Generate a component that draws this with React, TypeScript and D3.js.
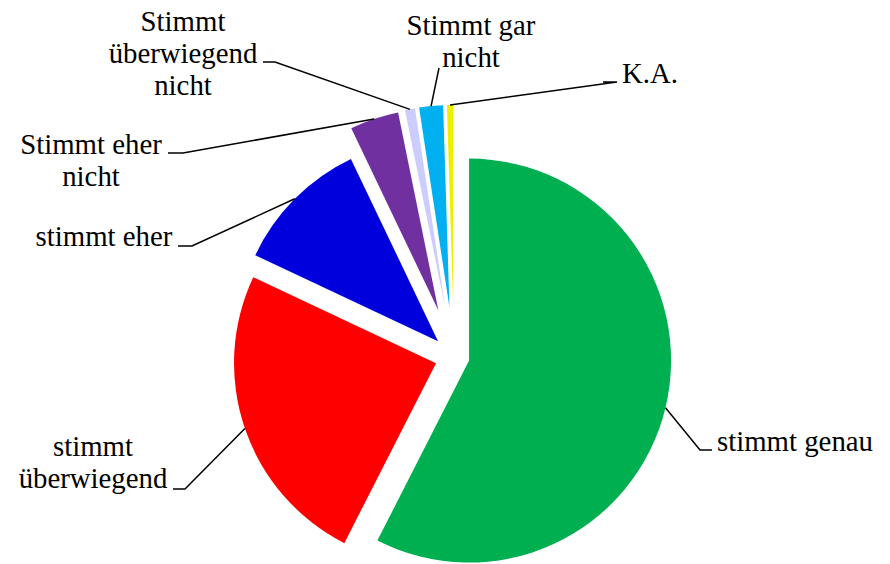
import * as d3 from "d3"

// answer categories (clockwise from 12 o'clock)
const categories = [
  "stimmt genau",
  "stimmt überwiegend",
  "stimmt eher",
  "Stimmt eher nicht",
  "Stimmt überwiegend nicht",
  "Stimmt gar nicht",
  "K.A.",
]

// share in percent
const shares = [57.5, 24.5, 10.9, 3.9, 0.8, 1.9, 0.5]

const colors = ["#00B050", "#FF0000", "#0000DD", "#7030A0", "#CCCCFF", "#00B0F0", "#EEEE00"]

// label lines as shown in the chart
const labelLines = [
  ["stimmt genau"],
  ["stimmt", "überwiegend"],
  ["stimmt eher"],
  ["Stimmt eher", "nicht"],
  ["Stimmt", "überwiegend", "nicht"],
  ["Stimmt gar", "nicht"],
  ["K.A."],
]

// how far each slice is pulled out of the pie
const explode = [15.5, 19, 22.5, 49, 49.5, 50, 50]

// label placement: text x, first baseline, anchor, leader points after the slice
const labelLayout: { x: number; y: number; anchor: "start" | "middle"; leader: [number, number][] }[] = [
  { x: 717, y: 451, anchor: "start", leader: [[700, 450], [712, 450]] },
  { x: 93, y: 456, anchor: "middle", leader: [[185, 489], [173, 489]] },
  { x: 104, y: 246, anchor: "middle", leader: [[192, 246], [178, 246]] },
  { x: 91, y: 154, anchor: "middle", leader: [[183, 153], [168, 153]] },
  { x: 183, y: 31, anchor: "middle", leader: [[275, 62], [263, 62]] },
  { x: 471, y: 35, anchor: "middle", leader: [[439, 68]] },
  { x: 622, y: 83, anchor: "start", leader: [[617, 82], [603, 82]] },
]

const W = 890
const H = 564
const cx = 454
const cy = 357
const radius = 202
const fontSize = 28.8
const lineHeight = 32

type Slice = { name: string; value: number }

export default function App() {
  const data: Slice[] = categories.map((c, i) => ({ name: c, value: shares[i] }))

  const pie = d3
    .pie<Slice>()
    .sort(null)
    .value((d) => d.value)
    .startAngle(0)
    .endAngle(2 * Math.PI)
  const arcs = pie(data)
  const arc = d3.arc<d3.PieArcDatum<Slice>>().innerRadius(0).outerRadius(radius)
  const line = d3.line()

  // shift each slice along its mid angle
  const offsetOf = (a: d3.PieArcDatum<Slice>) => {
    const mid = (a.startAngle + a.endAngle) / 2
    const e = explode[a.index]
    return [e * Math.sin(mid), -e * Math.cos(mid)]
  }

  return (
    <svg width={W} height={H} style={{ position: "absolute", left: 0, top: 0, background: "#fff" }}>
      <g transform={`translate(${cx},${cy})`}>
        {arcs.map((a) => {
          const [dx, dy] = offsetOf(a)
          return <path key={a.index} transform={`translate(${dx},${dy})`} d={arc(a) ?? ""} fill={colors[a.index]} />
        })}
      </g>
      {arcs.map((a) => {
        // leader from the outer edge of the slice to its label
        const mid = (a.startAngle + a.endAngle) / 2
        const [dx, dy] = offsetOf(a)
        const ax = cx + dx + radius * Math.sin(mid)
        const ay = cy + dy - radius * Math.cos(mid)
        const pts: [number, number][] = [[ax, ay], ...labelLayout[a.index].leader]
        return <path key={"l" + a.index} d={line(pts) ?? ""} fill="none" stroke="#000" strokeWidth={1.5} />
      })}
      {labelLines.map((lines, i) => {
        const lay = labelLayout[i]
        return (
          <text key={"t" + i} x={lay.x} y={lay.y} textAnchor={lay.anchor} fill="#000" fontFamily="Liberation Serif" fontSize={fontSize}>
            {lines.map((l, j) => (
              <tspan key={j} x={lay.x} y={lay.y + j * lineHeight}>
                {l}
              </tspan>
            ))}
          </text>
        )
      })}
    </svg>
  )
}
